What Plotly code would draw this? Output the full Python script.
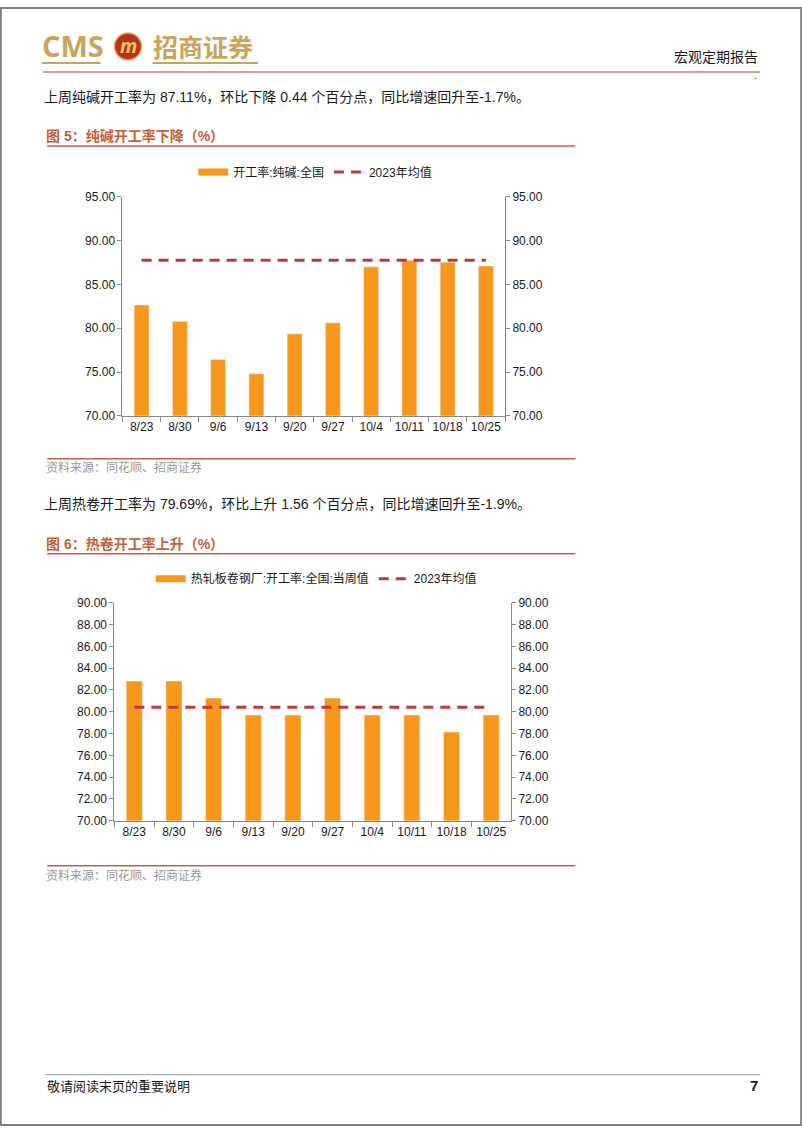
import plotly.graph_objects as go

W, H = 802, 1133

# ---------------- data ----------------
dates = ["8/23", "8/30", "9/6", "9/13", "9/20", "9/27", "10/4", "10/11", "10/18", "10/25"]
soda_rate = [82.65, 80.78, 76.43, 74.80, 79.36, 80.62, 87.02, 87.78, 87.55, 87.11]
soda_avg_2023 = 87.78
hrc_rate = [82.81, 82.81, 81.25, 79.69, 79.69, 81.25, 79.69, 79.69, 78.13, 79.69]
hrc_avg_2023 = 80.41

soda_ticks = [70, 75, 80, 85, 90, 95]
hrc_ticks = [70, 72, 74, 76, 78, 80, 82, 84, 86, 88, 90]

soda_name = "开工率:纯碱:全国"
hrc_name = "热轧板卷钢厂:开工率:全国:当周值"
avg_name = "2023年均值"

# ---------------- style ----------------
BAR = "#F7981D"
RED = "#BE3A3A"
AXIS = "#898989"
TITLE = "#C0623B"
GOLD = "#C9A45C"
FONT = "Liberation Sans, Noto Sans CJK SC"
CJK = "Noto Sans CJK SC"

# layout coordinates are given in page pixels; small calibration for the capture
SX, SY, OY = 0.996, 0.988, 7.0


def px(x):
    return min(1.0, max(0.0, (x / SX) / W))


def py(y):
    return min(1.0, max(0.0, 1 - ((y - OY) / SY) / H))


fig = go.Figure()

# chart 1
fig.add_trace(go.Bar(x=dates, y=soda_rate, marker_color=BAR, width=0.39,
                     showlegend=False, xaxis="x", yaxis="y", hoverinfo="x+y"))
fig.add_trace(go.Scatter(x=[None], y=[None], mode="lines", name=soda_name,
                         line=dict(color=BAR, width=7), legend="legend",
                         xaxis="x", yaxis="y"))
fig.add_trace(go.Scatter(x=dates, y=[soda_avg_2023] * len(dates), mode="lines",
                         name=avg_name, line=dict(color=RED, width=3, dash="10px,7px"),
                         legend="legend", xaxis="x", yaxis="y3"))

# chart 2
fig.add_trace(go.Bar(x=dates, y=hrc_rate, marker_color=BAR, width=0.405,
                     showlegend=False, xaxis="x2", yaxis="y2", hoverinfo="x+y"))
fig.add_trace(go.Scatter(x=[None], y=[None], mode="lines", name=hrc_name,
                         line=dict(color=BAR, width=7), legend="legend2",
                         xaxis="x2", yaxis="y2"))
fig.add_trace(go.Scatter(x=dates, y=[hrc_avg_2023] * len(dates), mode="lines",
                         name=avg_name, line=dict(color=RED, width=3, dash="10px,7px"),
                         legend="legend2", xaxis="x2", yaxis="y4"))

tickfont = dict(family=FONT, size=12, color="#1a1a1a")
xcommon = dict(type="category", showline=True, linecolor=AXIS, linewidth=1,
               ticks="outside", tickson="boundaries", ticklen=5, tickcolor=AXIS,
               tickangle=0, showgrid=False, zeroline=False, tickfont=tickfont,
               fixedrange=True)
ycommon = dict(showline=True, linecolor=AXIS, linewidth=1, ticks="outside",
               ticklen=4, tickcolor=AXIS, showgrid=False, zeroline=False,
               tickformat=".2f", tickfont=tickfont, fixedrange=True)

fig.update_layout(
    width=W, height=H,
    margin=dict(l=0, r=0, t=0, b=0),
    paper_bgcolor="white", plot_bgcolor="white",
    font=dict(family=FONT, size=12, color="#1a1a1a"),
    xaxis=dict(domain=[px(122), px(503)], anchor="y", **xcommon),
    yaxis=dict(domain=[py(416), py(197)], anchor="x", range=[70, 95],
               tickvals=soda_ticks, **ycommon),
    yaxis3=dict(overlaying="y", side="right", anchor="x", range=[70, 95],
                tickvals=soda_ticks, **ycommon),
    xaxis2=dict(domain=[px(114), px(509)], anchor="y2", **xcommon),
    yaxis2=dict(domain=[py(821), py(603)], anchor="x2", range=[70, 90],
                tickvals=hrc_ticks, **ycommon),
    yaxis4=dict(overlaying="y2", side="right", anchor="x2", range=[70, 90],
                tickvals=hrc_ticks, **ycommon),
    legend=dict(orientation="h", x=px(314), xanchor="center", y=py(172),
                yanchor="middle", font=dict(family=FONT, size=12, color="#1a1a1a"),
                bgcolor="rgba(0,0,0,0)", itemwidth=30),
    legend2=dict(orientation="h", x=px(315), xanchor="center", y=py(579),
                 yanchor="middle", font=dict(family=FONT, size=12, color="#1a1a1a"),
                 bgcolor="rgba(0,0,0,0)", itemwidth=30),
)

shapes = []


def hline(x0, x1, y, color, width):
    shapes.append(dict(type="line", xref="paper", yref="paper",
                       x0=px(x0), x1=px(x1), y0=py(y), y1=py(y),
                       line=dict(color=color, width=width)))


# page border
shapes.append(dict(type="rect", xref="paper", yref="paper",
                   x0=0.001, x1=0.999, y0=0.001, y1=0.999,
                   line=dict(color="#7f7f7f", width=2)))
# header
hline(42, 100, 63, GOLD, 2)
hline(152, 257, 63, GOLD, 2)
hline(43, 757, 72, "#D9786C", 1.5)
shapes.append(dict(type="circle", xref="paper", yref="paper",
                   x0=px(114), x1=px(141), y0=py(60), y1=py(33),
                   fillcolor="#B5321F", line=dict(color="#E2B24F", width=1.5)))
# figure title / source rules
hline(47, 573, 146, "#C4604A", 1.5)
hline(47, 573, 459, "#C4604A", 1.5)
hline(47, 573, 554, "#C4604A", 1.5)
hline(47, 573, 866, "#C4604A", 1.5)
# footer
hline(45, 757, 1075, "#9a9a9a", 1)

fig.update_layout(shapes=shapes)

ann = []


def text(x, y, s, size, color="#1a1a1a", xanchor="left", family=FONT, bold=False):
    if bold:
        s = "<b>" + s + "</b>"
    ann.append(dict(xref="paper", yref="paper", x=px(x), y=py(y), text=s,
                    showarrow=False, xanchor=xanchor, yanchor="middle",
                    font=dict(family=family, size=size, color=color)))


text(40, 46, "CMS", 29, GOLD, family="Open Sans", bold=True)
text(127.5, 46, "<i>m</i>", 19, "#F3C65A", xanchor="center", family="Open Sans", bold=True)
text(150, 46, "招商证券", 25, GOLD, family=CJK, bold=True)
text(757, 56, "宏观定期报告", 14, "#1a1a1a", xanchor="right", family=CJK)
text(752, 76, ".", 10, "#1a1a1a", xanchor="center")

text(42, 97, "上周纯碱开工率为 87.11%，环比下降 0.44 个百分点，同比增速回升至-1.7%。", 14)
text(44, 136, "图 5：纯碱开工率下降（%）", 14, TITLE, bold=True)
text(44, 468, "资料来源：同花顺、招商证券", 12, "#9a9a9a")
text(42, 504, "上周热卷开工率为 79.69%，环比上升 1.56 个百分点，同比增速回升至-1.9%。", 14)
text(44, 544, "图 6：热卷开工率上升（%）", 14, TITLE, bold=True)
text(44, 876, "资料来源：同花顺、招商证券", 12, "#9a9a9a")
text(45, 1086, "敬请阅读末页的重要说明", 13, "#1a1a1a", family=CJK)
text(757, 1086, "7", 15, "#1a1a1a", xanchor="right", bold=True)

fig.update_layout(annotations=ann)

fig.write_html(
    "out.html",
    config={"displayModeBar": False},
    post_script="document.body.style.margin='0';",
)
